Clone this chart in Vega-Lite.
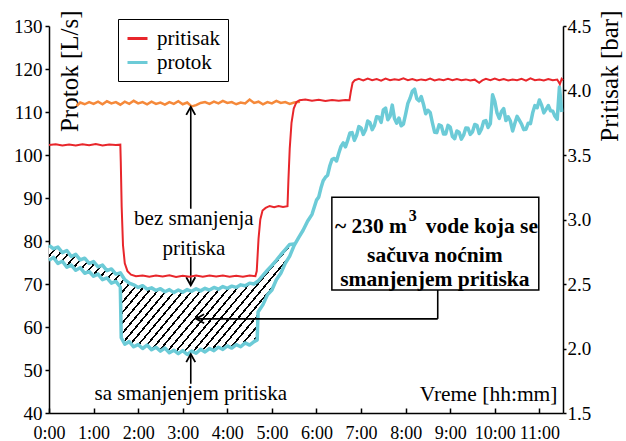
{
"$schema":"https://vega.github.io/schema/vega-lite/v6.json",
"width":514,"height":387,
"autosize":{"type":"none"},
"padding":{"left":49,"top":26,"right":63,"bottom":28},
"config":{
 "view":{"stroke":null},
 "font":"Liberation Serif",
 "text":{"font":"Liberation Serif","color":"#000"},
 "axis":{"grid":false,"domainColor":"#000","tickColor":"#000","labelColor":"#000","titleColor":"#000","domainWidth":1.5,"tickWidth":1.5,"labelFont":"Liberation Serif","titleFont":"Liberation Serif","titleFontWeight":"normal","labelFlush":false,"labelOverlap":false,"labelBound":false}
},
"datasets":{
 "flow":[
 {"s":"lo","h":0.0,"v":75.5},{"s":"lo","h":0.1,"v":76.2},{"s":"lo","h":0.2,"v":74.8},{"s":"lo","h":0.3,"v":75.3},{"s":"lo","h":0.4,"v":73.9},{"s":"lo","h":0.5,"v":74.4},{"s":"lo","h":0.6,"v":73.2},{"s":"lo","h":0.7,"v":73.8},{"s":"lo","h":0.8,"v":72.5},{"s":"lo","h":0.9,"v":72.9},{"s":"lo","h":1.0,"v":71.8},{"s":"lo","h":1.1,"v":72.3},{"s":"lo","h":1.2,"v":71.0},{"s":"lo","h":1.3,"v":71.4},{"s":"lo","h":1.4,"v":70.2},{"s":"lo","h":1.5,"v":70.6},{"s":"lo","h":1.6,"v":69.3},{"s":"lo","h":1.62,"v":57.5},{"s":"lo","h":1.7,"v":56.0},{"s":"lo","h":1.8,"v":56.6},{"s":"lo","h":1.9,"v":55.4},{"s":"lo","h":2.0,"v":55.9},{"s":"lo","h":2.1,"v":55.0},{"s":"lo","h":2.2,"v":55.8},{"s":"lo","h":2.3,"v":54.7},{"s":"lo","h":2.4,"v":55.3},{"s":"lo","h":2.5,"v":54.4},{"s":"lo","h":2.6,"v":55.1},{"s":"lo","h":2.7,"v":54.0},{"s":"lo","h":2.8,"v":54.6},{"s":"lo","h":2.9,"v":53.8},{"s":"lo","h":3.0,"v":54.5},{"s":"lo","h":3.1,"v":53.6},{"s":"lo","h":3.2,"v":54.4},{"s":"lo","h":3.3,"v":53.9},{"s":"lo","h":3.4,"v":54.8},{"s":"lo","h":3.5,"v":54.2},{"s":"lo","h":3.6,"v":55.0},{"s":"lo","h":3.7,"v":54.5},{"s":"lo","h":3.8,"v":55.3},{"s":"lo","h":3.9,"v":54.8},{"s":"lo","h":4.0,"v":55.6},{"s":"lo","h":4.1,"v":55.1},{"s":"lo","h":4.2,"v":55.9},{"s":"lo","h":4.3,"v":55.4},{"s":"lo","h":4.4,"v":56.3},{"s":"lo","h":4.5,"v":55.8},{"s":"lo","h":4.6,"v":56.6},{"s":"lo","h":4.67,"v":57.0},{"s":"lo","h":4.69,"v":63.5},{"s":"lo","h":4.8,"v":65.2},{"s":"lo","h":4.9,"v":67.5},{"s":"lo","h":5.0,"v":68.6},{"s":"lo","h":5.1,"v":71.0},{"s":"lo","h":5.2,"v":72.5},{"s":"lo","h":5.3,"v":74.8},{"s":"lo","h":5.4,"v":76.5},{"s":"lo","h":5.5,"v":79.0},{"s":"lo","h":5.6,"v":80.8},{"s":"lo","h":5.7,"v":82.5},{"s":"lo","h":5.8,"v":84.6},{"s":"lo","h":5.9,"v":86.2},{"s":"lo","h":6.0,"v":89.5},{"s":"lo","h":6.05,"v":90.2},{"s":"lo","h":6.1,"v":92.3},{"s":"lo","h":6.15,"v":94.0},{"s":"lo","h":6.2,"v":94.8},{"s":"lo","h":6.25,"v":95.3},{"s":"lo","h":6.3,"v":97.5},{"s":"lo","h":6.35,"v":99.0},{"s":"lo","h":6.4,"v":99.2},{"s":"lo","h":6.45,"v":98.6},{"s":"lo","h":6.5,"v":100.4},{"s":"lo","h":6.55,"v":102.0},{"s":"lo","h":6.6,"v":102.8},{"s":"lo","h":6.65,"v":101.9},{"s":"lo","h":6.7,"v":103.4},{"s":"lo","h":6.75,"v":105.1},{"s":"lo","h":6.8,"v":105.2},{"s":"lo","h":6.85,"v":103.4},{"s":"lo","h":6.9,"v":104.6},{"s":"lo","h":6.95,"v":106.6},{"s":"lo","h":7.0,"v":106.3},{"s":"lo","h":7.05,"v":104.8},{"s":"lo","h":7.1,"v":105.8},{"s":"lo","h":7.15,"v":107.9},{"s":"lo","h":7.2,"v":107.5},{"s":"lo","h":7.25,"v":105.9},{"s":"lo","h":7.3,"v":106.9},{"s":"lo","h":7.35,"v":108.9},{"s":"lo","h":7.4,"v":108.8},{"s":"lo","h":7.45,"v":107.6},{"s":"lo","h":7.5,"v":110.5},{"s":"lo","h":7.55,"v":110.9},{"s":"lo","h":7.6,"v":108.2},{"s":"lo","h":7.65,"v":109.0},{"s":"lo","h":7.7,"v":111.6},{"s":"lo","h":7.75,"v":108.5},{"s":"lo","h":7.8,"v":107.4},{"s":"lo","h":7.85,"v":108.6},{"s":"lo","h":7.9,"v":106.8},{"s":"lo","h":7.95,"v":107.2},{"s":"lo","h":8.0,"v":109.5},{"s":"lo","h":8.05,"v":112.0},{"s":"lo","h":8.1,"v":113.2},{"s":"lo","h":8.15,"v":114.8},{"s":"lo","h":8.2,"v":115.3},{"s":"lo","h":8.25,"v":113.1},{"s":"lo","h":8.3,"v":112.6},{"s":"lo","h":8.35,"v":113.6},{"s":"lo","h":8.4,"v":111.8},{"s":"lo","h":8.45,"v":109.6},{"s":"lo","h":8.5,"v":110.4},{"s":"lo","h":8.55,"v":109.9},{"s":"lo","h":8.6,"v":107.5},{"s":"lo","h":8.65,"v":105.3},{"s":"lo","h":8.7,"v":105.2},{"s":"lo","h":8.75,"v":107.0},{"s":"lo","h":8.8,"v":106.8},{"s":"lo","h":8.85,"v":104.9},{"s":"lo","h":8.9,"v":104.9},{"s":"lo","h":8.95,"v":106.9},{"s":"lo","h":9.0,"v":106.5},{"s":"lo","h":9.05,"v":104.3},{"s":"lo","h":9.1,"v":103.8},{"s":"lo","h":9.15,"v":105.6},{"s":"lo","h":9.2,"v":105.3},{"s":"lo","h":9.25,"v":103.7},{"s":"lo","h":9.3,"v":104.6},{"s":"lo","h":9.35,"v":106.3},{"s":"lo","h":9.4,"v":106.2},{"s":"lo","h":9.45,"v":104.8},{"s":"lo","h":9.5,"v":105.4},{"s":"lo","h":9.55,"v":107.1},{"s":"lo","h":9.6,"v":106.9},{"s":"lo","h":9.65,"v":105.0},{"s":"lo","h":9.7,"v":106.0},{"s":"lo","h":9.75,"v":107.8},{"s":"lo","h":9.8,"v":108.0},{"s":"lo","h":9.85,"v":106.4},{"s":"lo","h":9.9,"v":107.3},{"s":"lo","h":9.95,"v":114.0},{"s":"lo","h":10.0,"v":112.5},{"s":"lo","h":10.05,"v":109.8},{"s":"lo","h":10.1,"v":108.5},{"s":"lo","h":10.15,"v":110.1},{"s":"lo","h":10.2,"v":110.8},{"s":"lo","h":10.25,"v":108.0},{"s":"lo","h":10.3,"v":108.9},{"s":"lo","h":10.35,"v":107.9},{"s":"lo","h":10.4,"v":105.6},{"s":"lo","h":10.45,"v":107.4},{"s":"lo","h":10.5,"v":109.0},{"s":"lo","h":10.55,"v":108.1},{"s":"lo","h":10.6,"v":107.2},{"s":"lo","h":10.65,"v":105.9},{"s":"lo","h":10.7,"v":106.0},{"s":"lo","h":10.75,"v":107.4},{"s":"lo","h":10.8,"v":107.3},{"s":"lo","h":10.85,"v":109.8},{"s":"lo","h":10.9,"v":111.5},{"s":"lo","h":10.95,"v":111.0},{"s":"lo","h":11.0,"v":112.8},{"s":"lo","h":11.05,"v":111.6},{"s":"lo","h":11.1,"v":109.8},{"s":"lo","h":11.15,"v":110.6},{"s":"lo","h":11.2,"v":111.5},{"s":"lo","h":11.25,"v":110.3},{"s":"lo","h":11.3,"v":110.2},{"s":"lo","h":11.35,"v":109.0},{"s":"lo","h":11.4,"v":108.3},{"s":"lo","h":11.45,"v":115.8},{"s":"lo","h":11.48,"v":112.5},{"s":"lo","h":11.5,"v":110.0},
 {"s":"up","h":0.0,"v":79.0},{"s":"up","h":0.1,"v":78.2},{"s":"up","h":0.2,"v":78.6},{"s":"up","h":0.3,"v":77.3},{"s":"up","h":0.4,"v":77.8},{"s":"up","h":0.5,"v":76.4},{"s":"up","h":0.6,"v":76.9},{"s":"up","h":0.7,"v":75.6},{"s":"up","h":0.8,"v":76.0},{"s":"up","h":0.9,"v":74.8},{"s":"up","h":1.0,"v":75.2},{"s":"up","h":1.1,"v":74.0},{"s":"up","h":1.2,"v":74.4},{"s":"up","h":1.3,"v":73.1},{"s":"up","h":1.4,"v":73.5},{"s":"up","h":1.5,"v":72.3},{"s":"up","h":1.6,"v":72.6},{"s":"up","h":1.7,"v":71.0},{"s":"up","h":1.8,"v":70.2},{"s":"up","h":1.9,"v":69.8},{"s":"up","h":2.0,"v":69.2},{"s":"up","h":2.1,"v":69.6},{"s":"up","h":2.2,"v":68.8},{"s":"up","h":2.3,"v":69.1},{"s":"up","h":2.4,"v":68.5},{"s":"up","h":2.5,"v":68.9},{"s":"up","h":2.6,"v":68.2},{"s":"up","h":2.7,"v":68.7},{"s":"up","h":2.8,"v":68.0},{"s":"up","h":2.9,"v":68.6},{"s":"up","h":3.0,"v":68.1},{"s":"up","h":3.1,"v":68.7},{"s":"up","h":3.2,"v":68.3},{"s":"up","h":3.3,"v":68.9},{"s":"up","h":3.4,"v":68.4},{"s":"up","h":3.5,"v":69.0},{"s":"up","h":3.6,"v":68.6},{"s":"up","h":3.7,"v":69.2},{"s":"up","h":3.8,"v":68.8},{"s":"up","h":3.9,"v":69.4},{"s":"up","h":4.0,"v":69.0},{"s":"up","h":4.1,"v":69.5},{"s":"up","h":4.2,"v":69.2},{"s":"up","h":4.3,"v":69.8},{"s":"up","h":4.4,"v":69.6},{"s":"up","h":4.5,"v":70.2},{"s":"up","h":4.6,"v":70.0},{"s":"up","h":4.7,"v":70.8},{"s":"up","h":4.8,"v":72.0},{"s":"up","h":4.9,"v":73.2},{"s":"up","h":5.0,"v":74.3},{"s":"up","h":5.1,"v":75.5},{"s":"up","h":5.2,"v":76.8},{"s":"up","h":5.3,"v":78.0},{"s":"up","h":5.4,"v":79.2},{"s":"up","h":5.5,"v":79.3}
 ],
 "hatch":[
 {"h":0.0,"up":79.0,"lo":75.5},{"h":0.1,"up":78.2,"lo":76.2},{"h":0.2,"up":78.6,"lo":74.8},{"h":0.3,"up":77.3,"lo":75.3},{"h":0.4,"up":77.8,"lo":73.9},{"h":0.5,"up":76.4,"lo":74.4},{"h":0.6,"up":76.9,"lo":73.2},{"h":0.7,"up":75.6,"lo":73.8},{"h":0.8,"up":76.0,"lo":72.5},{"h":0.9,"up":74.8,"lo":72.9},{"h":1.0,"up":75.2,"lo":71.8},{"h":1.1,"up":74.0,"lo":72.3},{"h":1.2,"up":74.4,"lo":71.0},{"h":1.3,"up":73.1,"lo":71.4},{"h":1.4,"up":73.5,"lo":70.2},{"h":1.5,"up":72.3,"lo":70.6},{"h":1.6,"up":72.6,"lo":69.3},{"h":1.62,"up":72.3,"lo":57.5},{"h":1.7,"up":71.0,"lo":56.0},{"h":1.8,"up":70.2,"lo":56.6},{"h":1.9,"up":69.8,"lo":55.4},{"h":2.0,"up":69.2,"lo":55.9},{"h":2.1,"up":69.6,"lo":55.0},{"h":2.2,"up":68.8,"lo":55.8},{"h":2.3,"up":69.1,"lo":54.7},{"h":2.4,"up":68.5,"lo":55.3},{"h":2.5,"up":68.9,"lo":54.4},{"h":2.6,"up":68.2,"lo":55.1},{"h":2.7,"up":68.7,"lo":54.0},{"h":2.8,"up":68.0,"lo":54.6},{"h":2.9,"up":68.6,"lo":53.8},{"h":3.0,"up":68.1,"lo":54.5},{"h":3.1,"up":68.7,"lo":53.6},{"h":3.2,"up":68.3,"lo":54.4},{"h":3.3,"up":68.9,"lo":53.9},{"h":3.4,"up":68.4,"lo":54.8},{"h":3.5,"up":69.0,"lo":54.2},{"h":3.6,"up":68.6,"lo":55.0},{"h":3.7,"up":69.2,"lo":54.5},{"h":3.8,"up":68.8,"lo":55.3},{"h":3.9,"up":69.4,"lo":54.8},{"h":4.0,"up":69.0,"lo":55.6},{"h":4.1,"up":69.5,"lo":55.1},{"h":4.2,"up":69.2,"lo":55.9},{"h":4.3,"up":69.8,"lo":55.4},{"h":4.4,"up":69.6,"lo":56.3},{"h":4.5,"up":70.2,"lo":55.8},{"h":4.6,"up":70.0,"lo":56.6},{"h":4.67,"up":70.5,"lo":57.0},{"h":4.69,"up":70.7,"lo":63.5},{"h":4.8,"up":72.0,"lo":65.2},{"h":4.9,"up":73.2,"lo":67.5},{"h":5.0,"up":74.3,"lo":68.6},{"h":5.1,"up":75.5,"lo":71.0},{"h":5.2,"up":76.8,"lo":72.5},{"h":5.3,"up":78.0,"lo":74.8},{"h":5.4,"up":79.2,"lo":76.5}
 ],
 "orange":[
 {"h":0.62,"v":111.4},{"h":0.7,"v":112.2},{"h":0.8,"v":111.8},{"h":0.9,"v":112.3},{"h":1.0,"v":111.9},{"h":1.1,"v":112.4},{"h":1.2,"v":111.8},{"h":1.3,"v":112.5},{"h":1.4,"v":112.0},{"h":1.5,"v":112.3},{"h":1.6,"v":111.7},{"h":1.7,"v":112.4},{"h":1.8,"v":111.9},{"h":1.9,"v":112.6},{"h":2.0,"v":112.0},{"h":2.1,"v":112.3},{"h":2.2,"v":111.8},{"h":2.3,"v":112.4},{"h":2.4,"v":111.9},{"h":2.5,"v":112.2},{"h":2.6,"v":111.7},{"h":2.7,"v":112.3},{"h":2.8,"v":111.9},{"h":2.9,"v":112.5},{"h":3.0,"v":111.8},{"h":3.1,"v":112.2},{"h":3.2,"v":111.3},{"h":3.3,"v":111.6},{"h":3.4,"v":112.1},{"h":3.5,"v":112.3},{"h":3.6,"v":111.9},{"h":3.7,"v":112.4},{"h":3.8,"v":112.0},{"h":3.9,"v":112.6},{"h":4.0,"v":112.1},{"h":4.1,"v":112.3},{"h":4.2,"v":111.8},{"h":4.3,"v":112.2},{"h":4.4,"v":112.0},{"h":4.5,"v":112.9},{"h":4.6,"v":112.1},{"h":4.7,"v":112.4},{"h":4.8,"v":111.8},{"h":4.9,"v":112.3},{"h":5.0,"v":112.0},{"h":5.1,"v":112.6},{"h":5.2,"v":112.1},{"h":5.3,"v":112.3},{"h":5.4,"v":111.9},{"h":5.5,"v":112.2},{"h":5.63,"v":112.4}
 ],
 "press":[
 {"h":0.0,"p":3.578},{"h":0.15,"p":3.584},{"h":0.3,"p":3.574},{"h":0.45,"p":3.581},{"h":0.6,"p":3.573},{"h":0.75,"p":3.583},{"h":0.9,"p":3.576},{"h":1.05,"p":3.585},{"h":1.2,"p":3.574},{"h":1.35,"p":3.582},{"h":1.5,"p":3.577},{"h":1.6,"p":3.58},{"h":1.61,"p":3.45},{"h":1.63,"p":3.1},{"h":1.66,"p":2.8},{"h":1.7,"p":2.66},{"h":1.76,"p":2.6},{"h":1.84,"p":2.572},{"h":1.95,"p":2.56},{"h":2.1,"p":2.566},{"h":2.25,"p":2.556},{"h":2.4,"p":2.565},{"h":2.55,"p":2.558},{"h":2.7,"p":2.567},{"h":2.85,"p":2.555},{"h":3.0,"p":2.564},{"h":3.15,"p":2.557},{"h":3.3,"p":2.566},{"h":3.45,"p":2.556},{"h":3.6,"p":2.565},{"h":3.75,"p":2.558},{"h":3.9,"p":2.566},{"h":4.05,"p":2.556},{"h":4.2,"p":2.564},{"h":4.35,"p":2.557},{"h":4.5,"p":2.566},{"h":4.63,"p":2.56},{"h":4.66,"p":2.6},{"h":4.7,"p":2.85},{"h":4.74,"p":3.0},{"h":4.79,"p":3.07},{"h":4.86,"p":3.09},{"h":4.95,"p":3.105},{"h":5.05,"p":3.095},{"h":5.15,"p":3.105},{"h":5.25,"p":3.097},{"h":5.35,"p":3.103},{"h":5.37,"p":3.3},{"h":5.4,"p":3.55},{"h":5.44,"p":3.75},{"h":5.49,"p":3.86},{"h":5.55,"p":3.91},{"h":5.62,"p":3.925},{"h":5.75,"p":3.93},{"h":5.9,"p":3.92},{"h":6.05,"p":3.928},{"h":6.2,"p":3.918},{"h":6.35,"p":3.927},{"h":6.5,"p":3.92},{"h":6.65,"p":3.926},{"h":6.74,"p":3.925},{"h":6.77,"p":3.99},{"h":6.81,"p":4.06},{"h":6.86,"p":4.08},{"h":6.95,"p":4.09},{"h":7.05,"p":4.078},{"h":7.15,"p":4.093},{"h":7.25,"p":4.08},{"h":7.35,"p":4.088},{"h":7.45,"p":4.076},{"h":7.55,"p":4.092},{"h":7.65,"p":4.079},{"h":7.75,"p":4.087},{"h":7.85,"p":4.081},{"h":7.95,"p":4.094},{"h":8.05,"p":4.08},{"h":8.15,"p":4.089},{"h":8.25,"p":4.077},{"h":8.35,"p":4.086},{"h":8.45,"p":4.08},{"h":8.55,"p":4.092},{"h":8.65,"p":4.078},{"h":8.75,"p":4.087},{"h":8.85,"p":4.08},{"h":8.95,"p":4.09},{"h":9.05,"p":4.079},{"h":9.15,"p":4.088},{"h":9.25,"p":4.08},{"h":9.35,"p":4.086},{"h":9.45,"p":4.077},{"h":9.55,"p":4.084},{"h":9.65,"p":4.06},{"h":9.72,"p":4.078},{"h":9.8,"p":4.09},{"h":9.9,"p":4.08},{"h":10.0,"p":4.092},{"h":10.1,"p":4.079},{"h":10.2,"p":4.088},{"h":10.3,"p":4.078},{"h":10.4,"p":4.086},{"h":10.5,"p":4.08},{"h":10.6,"p":4.09},{"h":10.7,"p":4.077},{"h":10.8,"p":4.095},{"h":10.9,"p":4.08},{"h":11.0,"p":4.086},{"h":11.1,"p":4.078},{"h":11.2,"p":4.089},{"h":11.3,"p":4.08},{"h":11.4,"p":4.085},{"h":11.46,"p":4.05},{"h":11.5,"p":4.09},{"h":11.53,"p":4.08}
 ],
 "vrules":[{"h":3.18,"v":87.5,"v2":111.0},{"h":3.18,"v":76.3,"v2":69.9},{"h":3.18,"v":46.8,"v2":53.5},{"h":8.72,"v":68.6,"v2":61.9}],
 "hrules":[{"h":3.32,"h2":8.72,"v":61.9}],
 "heads":[{"h":3.18,"v":111.2,"d":"up"},{"h":3.18,"v":69.7,"d":"down"},{"h":3.18,"v":53.7,"d":"up"},{"h":3.3,"v":61.9,"d":"left"}],
 "notes":[{"h":3.25,"v":83.7,"t":"bez smanjenja"},{"h":3.25,"v":76.7,"t":"pritiska"},{"h":3.18,"v":43.0,"t":"sa smanjenjem pritiska"}],
 "box":[{"h":6.345,"h2":10.987,"v":90.2,"v2":68.6}],
 "boxc":[{"h":8.655,"v":75.2,"t":"sačuva noćnim"},{"h":8.655,"v":69.5,"t":"smanjenjem pritiska"}],
 "boxr":[{"h":8.03,"v":81.8,"t":"~ 230 m"}],
 "boxsup":[{"h":8.07,"v":84.6,"t":"3"}],
 "boxl":[{"h":8.45,"v":81.8,"t":"vode koja se"}]
},
"encoding":{"x":{"field":"h","type":"quantitative","scale":{"domain":[0,11.53],"nice":false,"zero":false},
 "axis":{"values":[0,1,2,3,4,5,6,7,8,9,10,11],"labelExpr":"floor(datum.value)+':00'","title":"Vreme [hh:mm]","titleX":508,"titleY":-13,"titleAlign":"right","titleBaseline":"alphabetic","titleFontSize":21.5,"labelFontSize":18,"tickSize":-5,"labelPadding":16}}},
"layer":[
  {"data":{"name":"hatch"},"mark":{"type":"area","fill":{"gradient":"linear","x1":0,"y1":0,"x2":1.3,"y2":0.495,"stops":[
   {"offset":0,"color":"#000"},{"offset":0.006,"color":"#000"},{"offset":0.006,"color":"#fff"},{"offset":0.024,"color":"#fff"},
   {"offset":0.024,"color":"#000"},{"offset":0.030,"color":"#000"},{"offset":0.030,"color":"#fff"},{"offset":0.048,"color":"#fff"},
   {"offset":0.048,"color":"#000"},{"offset":0.054,"color":"#000"},{"offset":0.054,"color":"#fff"},{"offset":0.072,"color":"#fff"},
   {"offset":0.072,"color":"#000"},{"offset":0.078,"color":"#000"},{"offset":0.078,"color":"#fff"},{"offset":0.096,"color":"#fff"},
   {"offset":0.096,"color":"#000"},{"offset":0.102,"color":"#000"},{"offset":0.102,"color":"#fff"},{"offset":0.120,"color":"#fff"},
   {"offset":0.120,"color":"#000"},{"offset":0.126,"color":"#000"},{"offset":0.126,"color":"#fff"},{"offset":0.144,"color":"#fff"},
   {"offset":0.144,"color":"#000"},{"offset":0.150,"color":"#000"},{"offset":0.150,"color":"#fff"},{"offset":0.168,"color":"#fff"},
   {"offset":0.168,"color":"#000"},{"offset":0.174,"color":"#000"},{"offset":0.174,"color":"#fff"},{"offset":0.192,"color":"#fff"},
   {"offset":0.192,"color":"#000"},{"offset":0.198,"color":"#000"},{"offset":0.198,"color":"#fff"},{"offset":0.216,"color":"#fff"},
   {"offset":0.216,"color":"#000"},{"offset":0.222,"color":"#000"},{"offset":0.222,"color":"#fff"},{"offset":0.240,"color":"#fff"},
   {"offset":0.240,"color":"#000"},{"offset":0.246,"color":"#000"},{"offset":0.246,"color":"#fff"},{"offset":0.264,"color":"#fff"},
   {"offset":0.264,"color":"#000"},{"offset":0.270,"color":"#000"},{"offset":0.270,"color":"#fff"},{"offset":0.288,"color":"#fff"},
   {"offset":0.288,"color":"#000"},{"offset":0.294,"color":"#000"},{"offset":0.294,"color":"#fff"},{"offset":0.312,"color":"#fff"},
   {"offset":0.312,"color":"#000"},{"offset":0.318,"color":"#000"},{"offset":0.318,"color":"#fff"},{"offset":0.336,"color":"#fff"},
   {"offset":0.336,"color":"#000"},{"offset":0.342,"color":"#000"},{"offset":0.342,"color":"#fff"},{"offset":0.360,"color":"#fff"},
   {"offset":0.360,"color":"#000"},{"offset":0.366,"color":"#000"},{"offset":0.366,"color":"#fff"},{"offset":0.384,"color":"#fff"},
   {"offset":0.384,"color":"#000"},{"offset":0.390,"color":"#000"},{"offset":0.390,"color":"#fff"},{"offset":0.408,"color":"#fff"},
   {"offset":0.408,"color":"#000"},{"offset":0.414,"color":"#000"},{"offset":0.414,"color":"#fff"},{"offset":0.432,"color":"#fff"},
   {"offset":0.432,"color":"#000"},{"offset":0.438,"color":"#000"},{"offset":0.438,"color":"#fff"},{"offset":0.456,"color":"#fff"},
   {"offset":0.456,"color":"#000"},{"offset":0.462,"color":"#000"},{"offset":0.462,"color":"#fff"},{"offset":0.480,"color":"#fff"},
   {"offset":0.480,"color":"#000"},{"offset":0.486,"color":"#000"},{"offset":0.486,"color":"#fff"},{"offset":0.504,"color":"#fff"},
   {"offset":0.504,"color":"#000"},{"offset":0.510,"color":"#000"},{"offset":0.510,"color":"#fff"},{"offset":0.528,"color":"#fff"},
   {"offset":0.528,"color":"#000"},{"offset":0.534,"color":"#000"},{"offset":0.534,"color":"#fff"},{"offset":0.552,"color":"#fff"},
   {"offset":0.552,"color":"#000"},{"offset":0.558,"color":"#000"},{"offset":0.558,"color":"#fff"},{"offset":0.576,"color":"#fff"},
   {"offset":0.576,"color":"#000"},{"offset":0.582,"color":"#000"},{"offset":0.582,"color":"#fff"},{"offset":0.600,"color":"#fff"},
   {"offset":0.600,"color":"#000"},{"offset":0.606,"color":"#000"},{"offset":0.606,"color":"#fff"},{"offset":0.624,"color":"#fff"},
   {"offset":0.624,"color":"#000"},{"offset":0.630,"color":"#000"},{"offset":0.630,"color":"#fff"},{"offset":0.648,"color":"#fff"},
   {"offset":0.648,"color":"#000"},{"offset":0.654,"color":"#000"},{"offset":0.654,"color":"#fff"},{"offset":0.672,"color":"#fff"},
   {"offset":0.672,"color":"#000"},{"offset":0.678,"color":"#000"},{"offset":0.678,"color":"#fff"},{"offset":0.696,"color":"#fff"},
   {"offset":0.696,"color":"#000"},{"offset":0.702,"color":"#000"},{"offset":0.702,"color":"#fff"},{"offset":0.720,"color":"#fff"},
   {"offset":0.720,"color":"#000"},{"offset":0.726,"color":"#000"},{"offset":0.726,"color":"#fff"},{"offset":0.744,"color":"#fff"},
   {"offset":0.744,"color":"#000"},{"offset":0.750,"color":"#000"},{"offset":0.750,"color":"#fff"},{"offset":0.768,"color":"#fff"},
   {"offset":0.768,"color":"#000"},{"offset":0.774,"color":"#000"},{"offset":0.774,"color":"#fff"},{"offset":0.792,"color":"#fff"},
   {"offset":0.792,"color":"#000"},{"offset":0.798,"color":"#000"},{"offset":0.798,"color":"#fff"},{"offset":0.816,"color":"#fff"},
   {"offset":0.816,"color":"#000"},{"offset":0.822,"color":"#000"},{"offset":0.822,"color":"#fff"},{"offset":0.840,"color":"#fff"},
   {"offset":0.840,"color":"#000"},{"offset":0.846,"color":"#000"},{"offset":0.846,"color":"#fff"},{"offset":0.864,"color":"#fff"},
   {"offset":0.864,"color":"#000"},{"offset":0.870,"color":"#000"},{"offset":0.870,"color":"#fff"},{"offset":0.888,"color":"#fff"},
   {"offset":0.888,"color":"#000"},{"offset":0.894,"color":"#000"},{"offset":0.894,"color":"#fff"},{"offset":0.912,"color":"#fff"},
   {"offset":0.912,"color":"#000"},{"offset":0.918,"color":"#000"},{"offset":0.918,"color":"#fff"},{"offset":0.936,"color":"#fff"},
   {"offset":0.936,"color":"#000"},{"offset":0.942,"color":"#000"},{"offset":0.942,"color":"#fff"},{"offset":0.960,"color":"#fff"},
   {"offset":0.960,"color":"#000"},{"offset":0.966,"color":"#000"},{"offset":0.966,"color":"#fff"},{"offset":0.984,"color":"#fff"},
   {"offset":0.984,"color":"#000"},{"offset":0.990,"color":"#000"},{"offset":0.990,"color":"#fff"},{"offset":1,"color":"#fff"}]}},
   "encoding":{"y":{"field":"up","type":"quantitative","scale":{"domain":[40,130],"nice":false,"zero":false},
     "axis":{"orient":"left","values":[40,50,60,70,80,90,100,110,120,130],"title":"Protok [L/s]","titleAngle":-90,"titleX":20,"titleY":-16,"titleAlign":"right","titleBaseline":"middle","titleFontSize":25,"labelFontSize":19,"tickSize":4,"labelPadding":3}},
    "y2":{"field":"lo"}}},
  {"data":{"name":"flow"},"mark":{"type":"line","strokeWidth":3.5,"strokeJoin":"round"},
   "encoding":{"y":{"field":"v","type":"quantitative","scale":{"domain":[40,130],"nice":false,"zero":false},"axis":null},
    "detail":{"field":"s"},
    "color":{"datum":"protok","scale":{"domain":["pritisak","protok"],"range":["#e8262b","#6ccbd7"]},
     "legend":{"orient":"none","legendX":69,"legendY":-7,"direction":"vertical","title":null,"strokeColor":"#000","fillColor":"#fff","padding":8,"symbolType":"stroke","symbolSize":400,"symbolStrokeWidth":3,"labelFontSize":21,"labelFont":"Liberation Serif","labelColor":"#000","labelOffset":8,"rowPadding":2}}}},
  {"data":{"name":"orange"},"mark":{"type":"line","strokeWidth":2.5,"color":"#f5893a"},
   "encoding":{"y":{"field":"v","type":"quantitative","scale":{"domain":[40,130],"nice":false,"zero":false},"axis":null}}},
  {"data":{"name":"vrules"},"mark":{"type":"rule","color":"#000","strokeWidth":1.6},
   "encoding":{"y":{"field":"v","type":"quantitative","scale":{"domain":[40,130],"nice":false,"zero":false},"axis":null},"y2":{"field":"v2"}}},
  {"data":{"name":"hrules"},"mark":{"type":"rule","color":"#000","strokeWidth":1.6},
   "encoding":{"x2":{"field":"h2"},"y":{"field":"v","type":"quantitative","scale":{"domain":[40,130],"nice":false,"zero":false},"axis":null}}},
  {"data":{"name":"heads"},"mark":{"type":"point","filled":false,"stroke":"#000","strokeWidth":1.8,"opacity":1,"size":100},
   "encoding":{"y":{"field":"v","type":"quantitative","scale":{"domain":[40,130],"nice":false,"zero":false},"axis":null},
    "shape":{"field":"d","type":"nominal","scale":{"domain":["up","down","left"],"range":["M-0.9,1.6L0,0L0.9,1.6","M-0.9,-1.6L0,0L0.9,-1.6","M1.6,-0.9L0,0L1.6,0.9"]},"legend":null}}},
  {"data":{"name":"notes"},"mark":{"type":"text","fontSize":21,"align":"center","baseline":"alphabetic"},
   "encoding":{"y":{"field":"v","type":"quantitative","scale":{"domain":[40,130],"nice":false,"zero":false},"axis":null},"text":{"field":"t"}}},
  {"data":{"name":"box"},"mark":{"type":"rect","fill":"#fff","stroke":"#000","strokeWidth":1.5},
   "encoding":{"x2":{"field":"h2"},"y":{"field":"v","type":"quantitative","scale":{"domain":[40,130],"nice":false,"zero":false},"axis":null},"y2":{"field":"v2"}}},
  {"data":{"name":"boxc"},"mark":{"type":"text","fontSize":21.5,"fontWeight":"bold","align":"center","baseline":"alphabetic"},
   "encoding":{"y":{"field":"v","type":"quantitative","scale":{"domain":[40,130],"nice":false,"zero":false},"axis":null},"text":{"field":"t"}}},
  {"data":{"name":"boxr"},"mark":{"type":"text","fontSize":21.5,"fontWeight":"bold","align":"right","baseline":"alphabetic"},
   "encoding":{"y":{"field":"v","type":"quantitative","scale":{"domain":[40,130],"nice":false,"zero":false},"axis":null},"text":{"field":"t"}}},
  {"data":{"name":"boxsup"},"mark":{"type":"text","fontSize":16,"fontWeight":"bold","align":"left","baseline":"alphabetic"},
   "encoding":{"y":{"field":"v","type":"quantitative","scale":{"domain":[40,130],"nice":false,"zero":false},"axis":null},"text":{"field":"t"}}},
  {"data":{"name":"boxl"},"mark":{"type":"text","fontSize":21.5,"fontWeight":"bold","align":"left","baseline":"alphabetic"},
   "encoding":{"y":{"field":"v","type":"quantitative","scale":{"domain":[40,130],"nice":false,"zero":false},"axis":null},"text":{"field":"t"}}},
  {"data":{"name":"press"},"mark":{"type":"line","strokeWidth":2},
   "encoding":{"y":{"field":"p","type":"quantitative","scale":{"domain":[1.5,4.5],"nice":false,"zero":false},
     "axis":{"orient":"right","values":[1.5,2,2.5,3,3.5,4,4.5],"format":".1f","title":"Pritisak [bar]","titleAngle":-90,"titleX":46,"titleY":-16,"titleAlign":"right","titleBaseline":"middle","titleFontSize":25,"labelFontSize":19,"tickSize":3,"labelPadding":1}},
    "color":{"datum":"pritisak"}}}
],
"resolve":{"scale":{"y":"independent"}}
}
